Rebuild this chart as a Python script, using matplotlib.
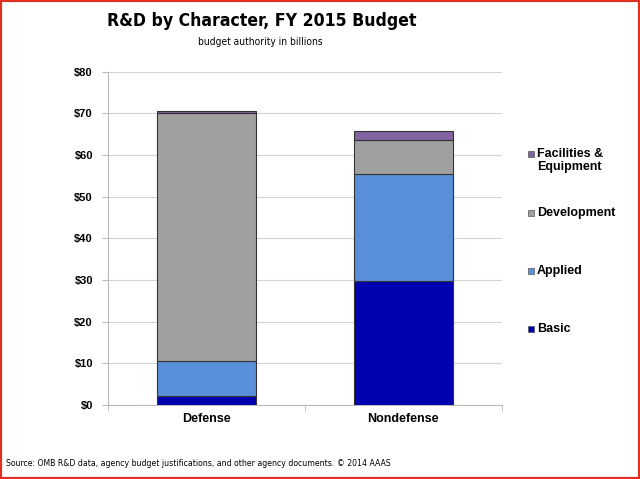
import matplotlib
matplotlib.use('Agg')
import matplotlib.pyplot as plt
from matplotlib.patches import Rectangle

# данные (млрд $)
categories = ['Defense', 'Nondefense']
series_names = ['Basic', 'Applied', 'Development', 'Facilities &\nEquipment']
basic = [2.2, 29.8]
applied = [8.3, 25.6]
development = [59.7, 8.3]
facilities = [0.4, 2.0]
colors = ['#0000B0', '#5A8FDA', '#A0A0A0', '#8064A2']
y_ticks = [0, 10, 20, 30, 40, 50, 60, 70, 80]
y_tick_labels = ['$%d' % v for v in y_ticks]

fig = plt.figure(figsize=(6.4, 4.79), dpi=100)
ax = fig.add_axes([0.169, 0.155, 0.615, 0.695])

values = [basic, applied, development, facilities]
x = range(len(categories))
bottom = [0, 0]
for vals, col, name in zip(values, colors, series_names):
    ax.bar(x, vals, 0.5, bottom=bottom, color=col, edgecolor='#333333',
           linewidth=0.8, label=name, zorder=3)
    bottom = [b + v for b, v in zip(bottom, vals)]

ax.set_xlim(-0.5, 1.5)
ax.set_ylim(0, 80)
ax.set_yticks(y_ticks)
ax.set_yticklabels(y_tick_labels, fontsize=8, fontweight='bold', family='Liberation Sans')
ax.set_xticks(list(x))
ax.set_xticklabels(categories, fontsize=9, fontweight='bold', family='Liberation Sans')
ax.tick_params(axis='x', length=0, pad=6)
ax.set_xticks([-0.5, 0.5, 1.5], minor=True)
ax.tick_params(axis='x', which='minor', length=4, color='#BBBBBB')
ax.tick_params(axis='y', length=4, color='#BBBBBB', pad=7)
ax.grid(axis='y', color='#D4D4D4', linewidth=0.8, zorder=0)
for s in ['top', 'right']:
    ax.spines[s].set_visible(False)
for s in ['left', 'bottom']:
    ax.spines[s].set_color('#BBBBBB')

# легенда вручную (сверху вниз)
legend_y = [1 - 154 / 479, 1 - 213 / 479, 1 - 271 / 479, 1 - 329 / 479]
for name, col, ly in zip(series_names[::-1], colors[::-1], legend_y):
    fig.patches.append(Rectangle((528 / 640, ly - 3 / 479), 6 / 640, 6 / 479,
                                 transform=fig.transFigure, facecolor=col,
                                 edgecolor='#555555', linewidth=0.5))
    fig.text(537 / 640, ly + 6 / 479, name, fontsize=9, fontweight='bold',
             family='Liberation Sans', va='top', linespacing=1.15)

fig.text(0.409, 1 - 21 / 479, 'R&D by Character, FY 2015 Budget', ha='center',
         va='center', fontsize=12.6, fontweight='bold', family='DejaVu Sans',
         fontstretch='condensed')
fig.text(0.406, 1 - 42 / 479, 'budget authority in billions', ha='center',
         va='center', fontsize=7.3, family='DejaVu Sans', fontstretch='condensed')
fig.text(6 / 640, 1 - 463 / 479,
         'Source: OMB R&D data, agency budget justifications, and other agency documents. © 2014 AAAS',
         ha='left', va='center', fontsize=6.2, family='DejaVu Sans', fontstretch='condensed')

fig.patches.append(Rectangle((0, 0), 1, 1, transform=fig.transFigure,
                             fill=False, edgecolor='#E03020', linewidth=3))

fig.savefig('out.png', dpi=100)
